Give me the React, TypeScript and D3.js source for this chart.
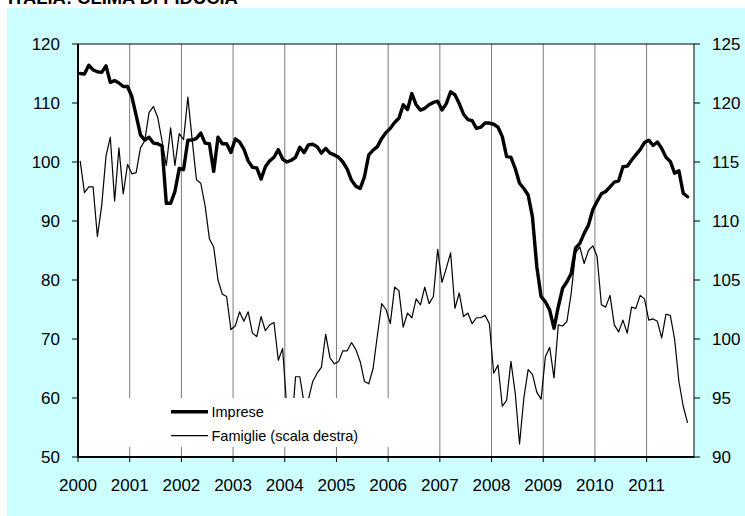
import React from 'react';
import * as d3 from 'd3';

const title = 'ITALIA: CLIMA DI FIDUCIA';
const years = ['2000', '2001', '2002', '2003', '2004', '2005', '2006', '2007', '2008', '2009', '2010', '2011'];
const monthCodes = ['01', '02', '03', '04', '05', '06', '07', '08', '09', '10', '11', '12'];
const categoryCount = 143; // Jan 2000 – Nov 2011 on the axis

// Imprese (left scale), Jan 2000 – Oct 2011
const imprese = [
  115.0, 114.9, 116.4, 115.6, 115.3, 115.2, 116.3, 113.5, 113.8, 113.4, 112.8, 112.8,
  111.1, 107.9, 104.6, 103.7, 104.2, 103.2, 103.1, 102.7, 93.0, 93.0, 95.0, 98.9,
  98.7, 103.7, 103.7, 104.0, 104.9, 103.2, 103.1, 98.4, 104.2, 103.1, 103.1, 101.6,
  103.9, 103.4, 102.2, 100.2, 99.1, 99.0, 97.1, 99.2, 100.2, 100.8, 102.1, 100.5,
  100.0, 100.3, 100.8, 102.5, 101.6, 102.9, 103.0, 102.6, 101.5, 102.3, 101.5, 101.2,
  100.8, 100.0, 98.8, 96.9, 95.9, 95.5, 97.5, 101.2, 102.0, 102.6, 104.0, 105.0,
  105.7, 106.7, 107.4, 109.7, 108.9, 111.6, 109.7, 108.8, 109.1, 109.7, 110.1, 110.3,
  108.8, 109.9, 111.9, 111.4, 109.9, 108.1, 107.2, 107.0, 105.7, 105.9, 106.6, 106.6,
  106.4, 105.9, 104.3, 100.9, 100.8, 98.9, 96.4, 95.5, 94.4, 90.7, 82.3, 77.2,
  76.3, 74.9, 71.8, 75.5, 78.6, 79.7, 81.1, 85.4, 86.2, 87.9, 89.3, 91.9,
  93.3, 94.6, 95.0, 95.8, 96.6, 96.8, 99.2, 99.3, 100.3, 101.2, 102.1, 103.3,
  103.7, 102.8, 103.4, 102.3, 100.8, 100.1, 98.1, 98.5, 94.7, 94.1,
];

// Famiglie (right scale), Jan 2000 – Oct 2011
const famiglie = [
  115.1, 112.4, 112.9, 112.9, 108.7, 111.3, 115.5, 117.1, 111.7, 116.2, 112.3, 114.8,
  114.0, 114.1, 116.2, 116.8, 119.2, 119.7, 118.8, 116.8, 114.7, 117.9, 114.7, 117.4,
  116.9, 120.5, 116.9, 113.5, 113.2, 111.3, 108.5, 107.8, 105.0, 103.8, 103.6, 100.8,
  101.1, 102.3, 101.5, 102.3, 100.5, 100.2, 101.9, 100.7, 101.2, 101.4, 98.2, 99.2,
  94.0, 92.0, 96.8, 96.8, 94.5, 94.9, 96.4, 97.1, 97.6, 100.4, 98.4, 97.9,
  98.1, 99.0, 99.0, 99.7, 99.1, 98.1, 96.4, 96.2, 97.5, 100.3, 103.0, 102.5,
  101.3, 104.4, 104.1, 101.0, 102.2, 101.8, 103.4, 102.9, 104.4, 103.0, 103.6, 107.6,
  104.8, 106.0, 107.3, 102.6, 103.9, 101.9, 102.2, 101.3, 101.8, 101.8, 102.0, 101.3,
  97.1, 97.8, 94.3, 94.8, 98.1, 95.4, 91.1, 95.0, 97.4, 97.0, 95.5, 94.9,
  98.5, 99.3, 96.7, 101.2, 101.1, 101.5, 103.9, 107.3, 107.8, 106.4, 107.5, 107.9,
  107.0, 102.9, 102.7, 103.7, 101.2, 100.6, 101.6, 100.5, 102.7, 102.6, 103.7, 103.4,
  101.6, 101.7, 101.5, 100.1, 102.1, 102.0, 100.0, 96.4, 94.3, 92.9,
];

const leftTicks = [50, 60, 70, 80, 90, 100, 110, 120];
const rightTicks = [90, 95, 100, 105, 110, 115, 120, 125];
const legendLabels = ['Imprese', 'Famiglie (scala destra)'];

const W = 745;
const H = 516;
const PL = 78;
const PR = 694;
const PT = 44;
const PB = 457;
const FONT = '"Liberation Sans", Arial, Helvetica, sans-serif';

export default function App() {
  const months = years.flatMap((y) => monthCodes.map((m) => `${y}-${m}`)).slice(0, categoryCount);
  const x = d3.scaleBand<string>().domain(months).range([PL, PR]).paddingInner(0).paddingOuter(0);
  const bw = x.bandwidth();
  const cx = (i: number) => (x(months[i]) as number) + bw / 2;
  const yL = d3.scaleLinear().domain([50, 120]).range([PB, PT]);
  const yR = d3.scaleLinear().domain([90, 125]).range([PB, PT]);

  const lineL = d3.line<number>().x((_, i) => cx(i)).y((d) => yL(d));
  const lineR = d3.line<number>().x((_, i) => cx(i)).y((d) => yR(d));

  const yearX = years.map((y) => x(`${y}-01`) as number);

  const legX = 171;
  const legLineW = 37;

  return (
    <svg
      width={W}
      height={H}
      style={{ position: 'absolute', left: 0, top: 0, display: 'block', overflow: 'hidden' }}
      fontFamily={FONT}
    >
      <rect x={0} y={0} width={W} height={H} fill="#ffffff" />
      <rect x={7} y={8} width={W - 7} height={H - 8} fill="#CCFFFF" />
      <text x={8} y={3.6} fontSize={18.4} fontWeight="bold" fill="#000">{title}</text>

      {/* plot area */}
      <rect x={PL} y={PT} width={PR - PL} height={PB - PT} fill="#ffffff" />

      {/* vertical gridlines at year boundaries */}
      {yearX.slice(1).map((gx, k) => (
        <line key={`g${k}`} x1={gx} x2={gx} y1={PT} y2={PB} stroke="#7a7a7a" strokeWidth={1} />
      ))}

      {/* series */}
      <path d={lineR(famiglie) || ''} fill="none" stroke="#000" strokeWidth={1.2} strokeLinejoin="round" />
      <path d={lineL(imprese) || ''} fill="none" stroke="#000" strokeWidth={3.4} strokeLinejoin="round" strokeLinecap="round" />

      {/* legend */}
      <rect x={104} y={398} width={296} height={49} fill="#ffffff" />
      <line x1={legX} x2={legX + legLineW} y1={411.7} y2={411.7} stroke="#000" strokeWidth={3.4} />
      <text x={211.5} y={416.8} fontSize={14.5} fill="#000">{legendLabels[0]}</text>
      <line x1={legX} x2={legX + legLineW} y1={435.7} y2={435.7} stroke="#000" strokeWidth={1.2} />
      <text x={211.5} y={440.8} fontSize={14.5} fill="#000">{legendLabels[1]}</text>

      {/* plot border */}
      <rect x={PL} y={PT} width={PR - PL} height={PB - PT} fill="none" stroke="#000" strokeWidth={1} />
      <line x1={PL} x2={PL} y1={PT} y2={PB + 1} stroke="#000" strokeWidth={2} />
      <line x1={PL - 1} x2={PR} y1={PB} y2={PB} stroke="#000" strokeWidth={2} />

      {/* left axis */}
      {leftTicks.map((t) => (
        <g key={`l${t}`}>
          <line x1={PL - 6} x2={PL} y1={yL(t)} y2={yL(t)} stroke="#000" strokeWidth={1} />
          <text x={60} y={yL(t) + 6.3} fontSize={17} textAnchor="end" fill="#000">{t}</text>
        </g>
      ))}

      {/* right axis */}
      {rightTicks.map((t) => (
        <g key={`r${t}`}>
          <line x1={PR} x2={PR + 6} y1={yR(t)} y2={yR(t)} stroke="#000" strokeWidth={1} />
          <text x={712} y={yR(t) + 6.3} fontSize={17} textAnchor="start" fill="#000">{t}</text>
        </g>
      ))}

      {/* x axis */}
      {yearX.map((gx, k) => (
        <g key={`x${k}`}>
          <line x1={gx} x2={gx} y1={PB} y2={PB + 5} stroke="#000" strokeWidth={1} />
          <text x={gx} y={491} fontSize={17} textAnchor="middle" fill="#000">{years[k]}</text>
        </g>
      ))}
    </svg>
  );
}
